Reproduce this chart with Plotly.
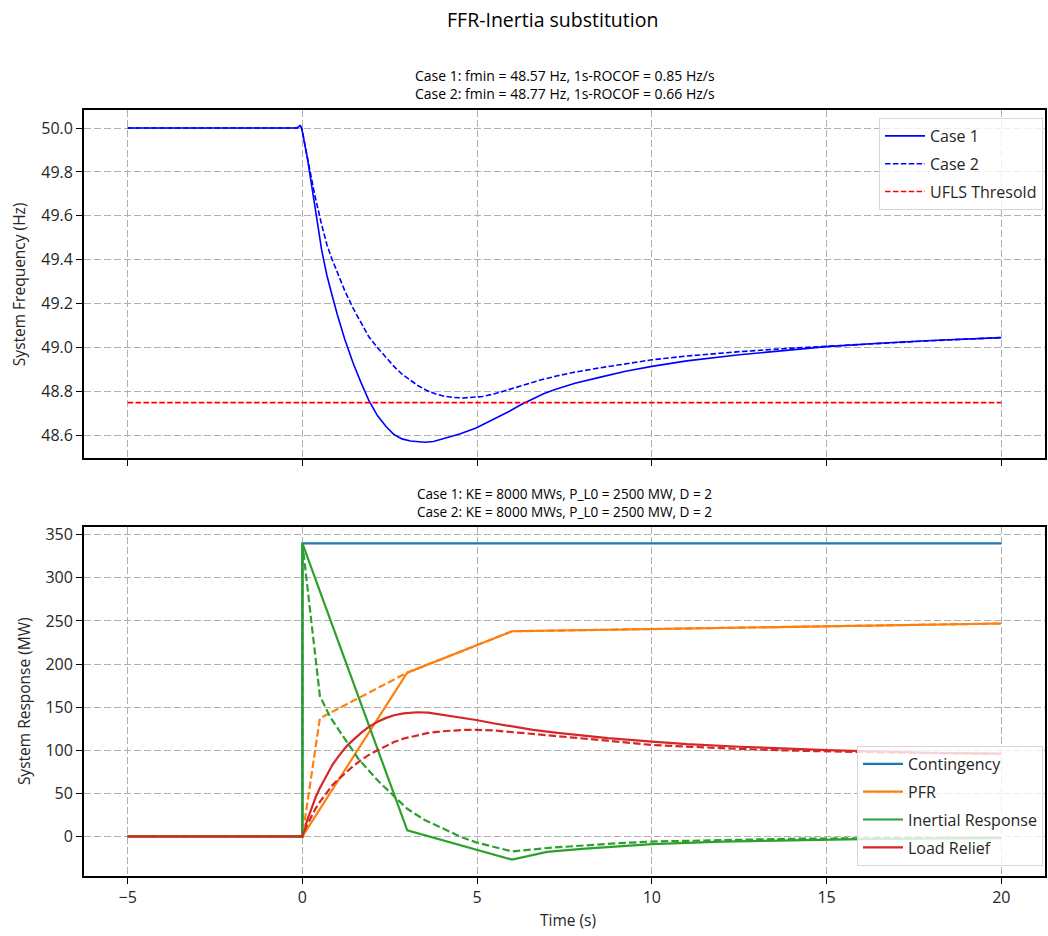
import plotly.graph_objects as go

# ---------------- data ----------------
# Frequency, Case 1 (solid)
t_f1 = [-5, -0.15, -0.07, -0.02, 0.15, 0.26, 0.4, 0.55, 0.7, 0.83, 1.0, 1.21, 1.45, 1.68,
        1.9, 2.15, 2.4, 2.62, 2.85, 3.09, 3.3, 3.5, 3.75, 4.03, 4.5, 4.97, 5.45, 5.91,
        6.25, 6.57, 6.9, 7.23, 7.8, 8.5, 9.25, 10, 11, 12.5, 14, 15, 16.5, 18, 20]
f_case1 = [50.0, 50.0, 50.012, 50.0, 49.855, 49.75, 49.6, 49.445, 49.33, 49.25, 49.15, 49.04,
           48.93, 48.84, 48.76, 48.69, 48.64, 48.605, 48.585, 48.575, 48.571, 48.57, 48.573,
           48.585, 48.607, 48.635, 48.672, 48.71, 48.74, 48.765, 48.79, 48.81, 48.838,
           48.865, 48.893, 48.915, 48.94, 48.968, 48.99, 49.005, 49.02, 49.033, 49.046]

# Frequency, Case 2 (dashed)
t_f2 = [-5, -0.15, -0.07, -0.02, 0.15, 0.26, 0.36, 0.55, 0.7, 0.83, 1.0, 1.21, 1.45, 1.68,
        1.9, 2.15, 2.4, 2.62, 2.85, 3.09, 3.3, 3.56, 3.8, 4.03, 4.3, 4.6, 4.9, 5.16, 5.5,
        5.91, 6.4, 6.86, 7.3, 7.7, 8.5, 9.25, 10, 11, 12.5, 14, 15, 16.5, 18, 20]
f_case2 = [50.0, 50.0, 50.012, 50.0, 49.86, 49.77, 49.69, 49.56, 49.47, 49.41, 49.34, 49.26,
           49.18, 49.11, 49.05, 49.0, 48.955, 48.915, 48.88, 48.85, 48.828, 48.805, 48.79,
           48.78, 48.774, 48.771, 48.773, 48.778, 48.79, 48.81, 48.833, 48.855, 48.872,
           48.886, 48.908, 48.928, 48.945, 48.962, 48.982, 48.998, 49.007, 49.02, 49.032,
           49.046]

ufls_threshold = 48.75
t_range = [-5, 20]

# Contingency
t_cont = [-5, 0, 0, 20]
p_cont = [0, 0, 340, 340]

# PFR
t_pfr1 = [-5, 0, 3, 6, 20]
p_pfr1 = [0, 0, 190, 238, 247]
t_pfr2 = [-5, 0, 0.5, 3, 6, 20]
p_pfr2 = [0, 0, 137, 190, 238, 247]

# Inertial response
t_ir1 = [-5, 0, 0, 3, 6, 7, 8, 9, 10, 12, 14, 16, 18, 20]
p_ir1 = [0, 0, 340, 7, -27, -18, -14.5, -11.5, -9, -6, -4.2, -3.2, -2.5, -2]
t_ir2 = [-5, 0, 0, 0.5, 0.8, 1.21, 1.6, 2.15, 2.6, 3, 3.5, 4.03, 4.5, 4.97, 5.5, 6,
         7, 8, 9, 10, 12, 14, 16, 18, 20]
p_ir2 = [0, 0, 340, 163, 138, 113, 90, 65, 47, 32, 19, 9, 0, -7, -12.5, -17.5,
         -13.5, -10.5, -8, -6, -4, -2.8, -2.2, -1.9, -1.6]

# Load relief
t_lr1 = [-5, 0, 0.13, 0.26, 0.38, 0.5, 0.62, 0.73, 0.86, 1.0, 1.1, 1.21, 1.33, 1.45, 1.57,
         1.68, 1.9, 2.15, 2.4, 2.62, 2.9, 3.28, 3.6, 4.03, 4.5, 4.97, 5.5, 6, 6.6, 7.3, 8,
         8.74, 10, 11, 12.5, 14, 15, 16.5, 18, 20]
p_lr1 = [0, 0, 18, 33, 45.5, 56, 65.5, 74, 83, 91, 96.8, 102, 107.3, 112, 116.2,
         120, 127, 133, 137.5, 140.5, 142.8, 144, 143.5, 141, 138.5, 135, 131, 127.5,
         123.5, 120, 117, 114, 110, 107, 104, 101.5, 100, 98.5, 97, 96]
t_lr2 = [-5, 0, 0.13, 0.26, 0.38, 0.5, 0.62, 0.73, 0.86, 1.0, 1.21, 1.45, 1.68, 1.9, 2.15,
         2.4, 2.62, 2.9, 3.28, 3.6, 4.03, 4.6, 5.0, 5.44, 6.0, 6.86, 7.8, 8.74, 10, 11,
         12.5, 14, 15, 16.5, 18, 20]
p_lr2 = [0, 0, 13, 24, 32.5, 40, 47, 53, 59.5, 65, 73, 81.5, 88.5, 94.5, 100, 105, 109.5,
         113.5, 117.5, 120, 122, 123.5, 123.5, 123, 121, 118, 114, 111, 106, 104, 101.5,
         99.5, 98.5, 97.5, 96.5, 95.5]

x_tickvals = [-5, 0, 5, 10, 15, 20]
x_ticktext = ["\u22125", "0", "5", "10", "15", "20"]
yf_tickvals = [48.6, 48.8, 49.0, 49.2, 49.4, 49.6, 49.8, 50.0]
yp_tickvals = [0, 50, 100, 150, 200, 250, 300, 350]

title_main = "FFR-Inertia substitution"
title_top = ("Case 1: fmin = 48.57 Hz, 1s-ROCOF = 0.85 Hz/s<br>"
             "Case 2: fmin = 48.77 Hz, 1s-ROCOF = 0.66 Hz/s")
title_bot = ("Case 1: KE = 8000 MWs, P_L0 = 2500 MW, D = 2<br>"
             "Case 2: KE = 8000 MWs, P_L0 = 2500 MW, D = 2")

# ---------------- styles ----------------
FONT = "Open Sans"
BLUE = "#0000ff"
RED = "#ff0000"
C_CONT = "#1f77b4"
C_PFR = "#ff7f0e"
C_IR = "#2ca02c"
C_LR = "#d62728"
GRID = "#b0b0b0"
TXT = "#262626"

W, H = 1048, 936
ML, MR, MT, MB = 84, 1, 110, 60
plot_h = H - MT - MB
plot_w = W - ML - MR

def py(pix):  # pixel y -> paper y
    return (H - MB - pix) / plot_h

def px(pix):  # pixel x -> paper x
    return (pix - ML) / plot_w

fig = go.Figure()

# top panel
fig.add_trace(go.Scatter(x=t_f1, y=f_case1, mode="lines", name="Case 1",
                         line=dict(color=BLUE, width=1.6), xaxis="x", yaxis="y",
                         legend="legend", legendgroup="a"))
fig.add_trace(go.Scatter(x=t_f2, y=f_case2, mode="lines", name="Case 2",
                         line=dict(color=BLUE, width=1.6, dash="5.5px,2.4px"),
                         xaxis="x", yaxis="y", legend="legend", legendgroup="b"))
fig.add_trace(go.Scatter(x=t_range, y=[ufls_threshold, ufls_threshold], mode="lines",
                         name="UFLS Thresold",
                         line=dict(color=RED, width=1.6, dash="5.5px,2.4px"),
                         xaxis="x", yaxis="y", legend="legend", legendgroup="c"))

# bottom panel
fig.add_trace(go.Scatter(x=t_cont, y=p_cont, mode="lines", name="Contingency",
                         line=dict(color=C_CONT, width=2.2), xaxis="x2", yaxis="y2",
                         legend="legend2", legendgroup="d"))
fig.add_trace(go.Scatter(x=t_pfr1, y=p_pfr1, mode="lines", name="PFR",
                         line=dict(color=C_PFR, width=2.2), xaxis="x2", yaxis="y2",
                         legend="legend2", legendgroup="e"))
fig.add_trace(go.Scatter(x=t_ir1, y=p_ir1, mode="lines", name="Inertial Response",
                         line=dict(color=C_IR, width=2.2), xaxis="x2", yaxis="y2",
                         legend="legend2", legendgroup="f"))
fig.add_trace(go.Scatter(x=t_lr1, y=p_lr1, mode="lines", name="Load Relief",
                         line=dict(color=C_LR, width=2.2),
                         xaxis="x2", yaxis="y2", legend="legend2", legendgroup="g"))
fig.add_trace(go.Scatter(x=t_pfr2, y=p_pfr2, mode="lines", showlegend=False,
                         line=dict(color=C_PFR, width=2.2, dash="7.4px,3.2px"),
                         xaxis="x2", yaxis="y2"))
fig.add_trace(go.Scatter(x=t_ir2, y=p_ir2, mode="lines", showlegend=False,
                         line=dict(color=C_IR, width=2.2, dash="7.4px,3.2px"),
                         xaxis="x2", yaxis="y2"))
fig.add_trace(go.Scatter(x=t_lr2, y=p_lr2, mode="lines", showlegend=False,
                         line=dict(color=C_LR, width=2.2, dash="7.4px,3.2px"),
                         xaxis="x2", yaxis="y2"))

axis_common = dict(showline=True, linecolor="black", linewidth=1.8, mirror=True,
                   ticks="outside", ticklen=6, tickwidth=1.3, tickcolor="black",
                   showgrid=True, gridcolor=GRID, gridwidth=1, griddash="7px,3px",
                   zeroline=False, tickfont=dict(family=FONT, size=16, color=TXT))

top_dom = [py(458), 1.0]
bot_dom = [0.0, py(527)]

fig.update_layout(
    width=W, height=H,
    margin=dict(l=ML, r=MR, t=MT, b=MB, pad=0),
    paper_bgcolor="white", plot_bgcolor="white",
    font=dict(family=FONT, color=TXT),
    xaxis=dict(domain=[0, 1], anchor="y", range=[-6.25, 21.25], matches="x2",
               tickvals=x_tickvals, ticktext=x_ticktext, showticklabels=False,
               **axis_common),
    yaxis=dict(domain=top_dom, anchor="x", range=[48.498, 50.082],
               tickvals=yf_tickvals, tickformat=".1f", **axis_common),
    xaxis2=dict(domain=[0, 1], anchor="y2", range=[-6.25, 21.25],
                tickvals=x_tickvals, ticktext=x_ticktext, **axis_common),
    yaxis2=dict(domain=bot_dom, anchor="x2", range=[-46, 359],
                tickvals=yp_tickvals, **axis_common),
    legend=dict(x=px(1045), y=py(118), xanchor="right", yanchor="top",
                bgcolor="rgba(255,255,255,0.8)", bordercolor="#d6d6d6", borderwidth=1,
                font=dict(family=FONT, size=16, color=TXT), tracegroupgap=4,
                itemwidth=40),
    legend2=dict(x=px(1045), y=py(866), xanchor="right", yanchor="bottom",
                 bgcolor="rgba(255,255,255,0.8)", bordercolor="#d6d6d6", borderwidth=1,
                 font=dict(family=FONT, size=16, color=TXT), tracegroupgap=4,
                 itemwidth=40),
    showlegend=True,
)

ann = [
    dict(text=title_main, x=px(553), y=py(20), xref="paper", yref="paper",
         showarrow=False, xanchor="center", yanchor="middle",
         font=dict(family=FONT, size=19.5, color="black")),
    dict(text=title_top, x=0.5, y=py(84.5), xref="paper", yref="paper",
         showarrow=False, xanchor="center", yanchor="middle",
         font=dict(family=FONT, size=14, color="black")),
    dict(text=title_bot, x=0.5, y=py(502), xref="paper", yref="paper",
         showarrow=False, xanchor="center", yanchor="middle",
         font=dict(family=FONT, size=13.6, color="black")),
    dict(text="System Frequency (Hz)", x=px(19), y=py(284), xref="paper", yref="paper",
         showarrow=False, xanchor="center", yanchor="middle", textangle=-90,
         font=dict(family=FONT, size=15.5, color=TXT)),
    dict(text="System Response (MW)", x=px(24), y=py(701), xref="paper", yref="paper",
         showarrow=False, xanchor="center", yanchor="middle", textangle=-90,
         font=dict(family=FONT, size=15.5, color=TXT)),
    dict(text="Time (s)", x=px(569), y=py(920), xref="paper", yref="paper",
         showarrow=False, xanchor="center", yanchor="middle",
         font=dict(family=FONT, size=15.5, color=TXT)),
]
fig.update_layout(annotations=ann)

fig.write_html("out.html", config={"displayModeBar": False},
               post_script="document.body.style.margin='0';document.body.style.overflow='hidden';")
